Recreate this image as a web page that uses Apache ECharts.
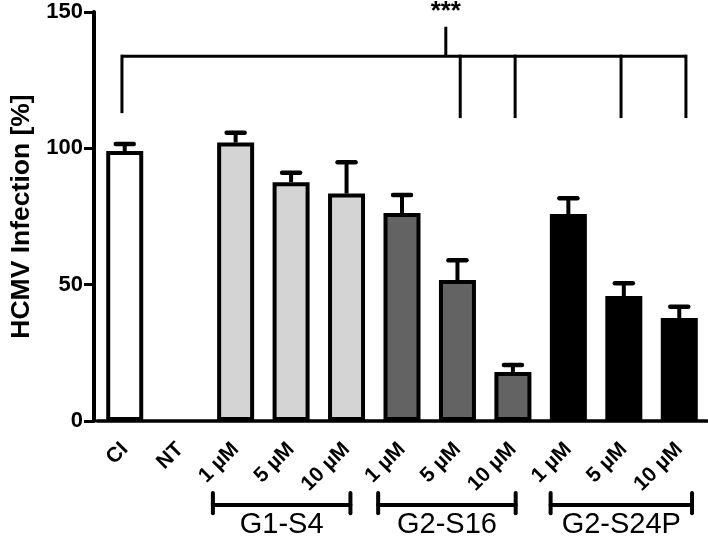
<!DOCTYPE html>
<html>
<head>
<meta charset="utf-8">
<script src="https://cdn.jsdelivr.net/npm/echarts@6/dist/echarts.min.js"></script>
<style>html,body{margin:0;padding:0;background:#fff;}#chart{width:708px;height:550px;}</style>
</head>
<body>
<div id="chart"></div>
<script>
// ---- data ----
const categories = ['CI', 'NT', '1 µM', '5 µM', '10 µM', '1 µM', '5 µM', '10 µM', '1 µM', '5 µM', '10 µM'];
const groupOf = ['CI', 'NT', 'G1-S4', 'G1-S4', 'G1-S4', 'G2-S16', 'G2-S16', 'G2-S16', 'G2-S24P', 'G2-S24P', 'G2-S24P'];
const values = [99.0, null, 102.1, 87.6, 83.4, 76.3, 51.7, 18.0, 75.9, 45.8, 37.8];
const errors = [2.6, null, 3.6, 3.4, 11.5, 6.6, 7.3, 2.5, 5.8, 4.7, 4.1];
const yTicks = [0, 50, 100, 150];
const groupNames = ['G1-S4', 'G2-S16', 'G2-S24P'];
const significance = '***';

// ---- styles ----
const FONT = "'Liberation Sans', Arial, Helvetica, sans-serif";
const groupColors = { 'CI': '#ffffff', 'NT': '#ffffff', 'G1-S4': '#d4d4d4', 'G2-S16': '#636363', 'G2-S24P': '#000000' };
// annotation geometry (category-index units / value units)
const groupSpans = [[1.59, 4.07], [4.57, 7.05], [7.68, 10.23]];
const groupBracketY = -30.8, groupCapTop = -26.4, groupCapBottom = -33.8, groupLabelY = -38.2;
const sigLineY = 133.8, sigLeft = -0.05, sigLeftDropTo = 112.9;
const sigDrops = [6.05, 7.04, 8.95, 10.12], sigDropTo = 111.1;
const sigMid = 5.79, sigMidTop = 144.6, sigTextY = 150.0;

const barData = values.map((v, i) => ({
  value: v,
  itemStyle: { color: groupColors[groupOf[i]], borderColor: '#000', borderWidth: 4 }
}));
const errData = values.map((v, i) => [i, v, errors[i]]);

const chart = echarts.init(document.getElementById('chart'), null, { renderer: 'canvas' });

function xAt(api, idx) {
  const x0 = api.coord([0, 0])[0];
  const bw = api.size([1, 0])[0];
  return x0 + idx * bw;
}
function yAt(api, v) { return api.coord([0, v])[1]; }

const option = {
  animation: false,
  backgroundColor: '#fff',
  grid: { left: 91, right: 1, top: 12, bottom: 129, containLabel: false },
  xAxis: {
    type: 'category',
    data: categories,
    axisLine: { lineStyle: { color: '#000', width: 3.5 } },
    axisTick: { alignWithLabel: true, length: 9, lineStyle: { color: '#000', width: 3 } },
    axisLabel: { rotate: 45, margin: 25, color: '#000', fontFamily: FONT, fontWeight: 'bold', fontSize: 21, interval: 0 }
  },
  yAxis: {
    type: 'value',
    min: 0, max: 150, interval: 50,
    offset: 3,
    name: 'HCMV Infection [%]',
    nameLocation: 'middle',
    nameGap: 59,
    nameTextStyle: { color: '#000', fontFamily: FONT, fontWeight: 'bold', fontSize: 26.5 },
    axisLine: { show: true, lineStyle: { color: '#000', width: 4 } },
    axisTick: { show: true, length: 10, lineStyle: { color: '#000', width: 3 } },
    splitLine: { show: false },
    axisLabel: {
      margin: 11, color: '#000', fontFamily: FONT, fontWeight: 'bold', fontSize: 22,
      formatter: v => (yTicks.indexOf(v) >= 0 ? String(v) : '')
    }
  },
  series: [
    {
      type: 'bar',
      data: barData,
      barWidth: 37,
      z: 2
    },
    {
      type: 'custom',
      z: 3,
      data: errData,
      encode: { x: 0, y: 1 },
      renderItem: function (params, api) {
        const v = api.value(1), e = api.value(2);
        if (v == null || isNaN(v) || e == null || isNaN(e)) return;
        const idx = api.value(0);
        const top = api.coord([idx, v]);
        const cap = api.coord([idx, v + e]);
        return {
          type: 'group',
          children: [
            { type: 'line', shape: { x1: top[0], y1: top[1], x2: cap[0], y2: cap[1] }, style: { stroke: '#000', lineWidth: 4 } },
            { type: 'line', shape: { x1: cap[0] - 9, y1: cap[1], x2: cap[0] + 9, y2: cap[1] }, style: { stroke: '#000', lineWidth: 4.5, lineCap: 'round' } }
          ]
        };
      }
    },
    {
      type: 'custom',
      z: 4,
      clip: false,
      data: [[0, 0]],
      encode: { x: 0, y: 1 },
      renderItem: function (params, api) {
        const children = [];
        const ls = { stroke: '#000', lineWidth: 3 };
        // significance bracket
        const yl = yAt(api, sigLineY);
        const xl = xAt(api, sigLeft);
        const xr = xAt(api, sigDrops[sigDrops.length - 1]);
        children.push({ type: 'line', shape: { x1: xl, y1: yl, x2: xr, y2: yl }, style: ls });
        children.push({ type: 'line', shape: { x1: xl, y1: yl - 1.5, x2: xl, y2: yAt(api, sigLeftDropTo) }, style: ls });
        sigDrops.forEach(d => {
          const xd = xAt(api, d);
          children.push({ type: 'line', shape: { x1: xd, y1: yl - 1.5, x2: xd, y2: yAt(api, sigDropTo) }, style: ls });
        });
        const xm = xAt(api, sigMid);
        children.push({ type: 'line', shape: { x1: xm, y1: yl, x2: xm, y2: yAt(api, sigMidTop) }, style: ls });
        children.push({
          type: 'text',
          style: { text: significance, x: xm, y: yAt(api, sigTextY), align: 'center', verticalAlign: 'middle',
                   fill: '#000', font: 'bold 26px ' + FONT }
        });
        // group brackets
        groupSpans.forEach((s, gi) => {
          const x1 = xAt(api, s[0]), x2 = xAt(api, s[1]);
          const yb = yAt(api, groupBracketY);
          const gs = { stroke: '#000', lineWidth: 4, lineCap: 'round' };
          children.push({ type: 'line', shape: { x1: x1, y1: yb, x2: x2, y2: yb }, style: gs });
          children.push({ type: 'line', shape: { x1: x1, y1: yAt(api, groupCapTop), x2: x1, y2: yAt(api, groupCapBottom) }, style: gs });
          children.push({ type: 'line', shape: { x1: x2, y1: yAt(api, groupCapTop), x2: x2, y2: yAt(api, groupCapBottom) }, style: gs });
          children.push({
            type: 'text',
            style: { text: groupNames[gi], x: (x1 + x2) / 2, y: yAt(api, groupLabelY), align: 'center', verticalAlign: 'middle',
                     fill: '#000', font: '29px ' + FONT }
          });
        });
        return { type: 'group', children: children };
      }
    }
  ]
};
chart.setOption(option);
</script>
</body>
</html>
